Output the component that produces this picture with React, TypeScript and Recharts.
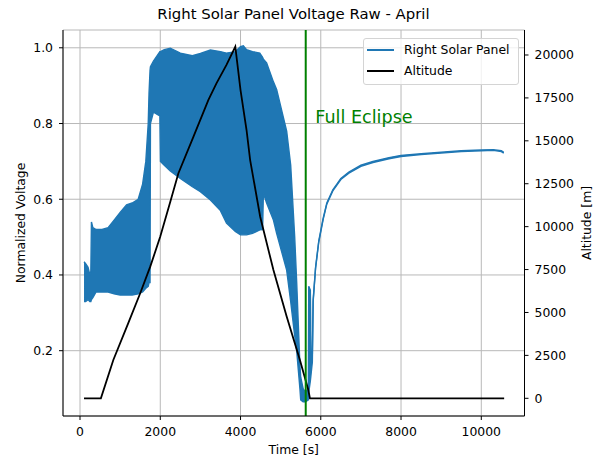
import React from 'react'
import {
  ComposedChart,
  Area,
  Line,
  XAxis,
  YAxis,
  CartesianGrid,
  ReferenceLine,
  Legend
} from 'recharts'

const FONT = '"DejaVu Sans", Verdana, sans-serif'

const panelTime = [
  100, 140, 200, 245, 270, 285, 320, 400, 550, 700, 850, 1000, 1160, 1300, 1450,
  1560, 1640, 1700, 1720, 1745, 1755, 1830, 1990, 2005, 2100, 2250, 2500, 2800,
  3000, 3250, 3500, 3650, 3870, 4000, 4070, 4150, 4300, 4480, 4550, 4570, 4650,
  4820, 4900, 5150, 5250, 5350, 5400, 5440, 5480, 5500, 5560, 5620, 5690, 5700,
  5740, 5760, 5790, 5810, 5870, 5950, 6060, 6150, 6300, 6500, 6700, 7000, 7300,
  7700, 8000, 8500, 9000, 9500, 10000, 10300, 10500, 10560
]
const panelLow = [
  0.33, 0.33, 0.335, 0.33, 0.33, 0.335, 0.34, 0.355, 0.355, 0.355, 0.35, 0.347, 0.347, 0.347, 0.35,
  0.355, 0.365, 0.37, 0.38, 0.38, 0.8, 0.83, 0.82, 0.7, 0.69, 0.675, 0.655, 0.633,
  0.62, 0.598, 0.57, 0.537, 0.515, 0.506, 0.506, 0.506, 0.51, 0.519, 0.52, 0.616, 0.59,
  0.545, 0.51, 0.413, 0.33, 0.24, 0.2, 0.15, 0.1, 0.07, 0.065, 0.065, 0.07, 0.09,
  0.12, 0.14, 0.17, 0.33, 0.417, 0.487, 0.547, 0.587, 0.622, 0.652, 0.669, 0.687, 0.697,
  0.707, 0.713, 0.718, 0.722, 0.726, 0.728, 0.729, 0.726, 0.722
]
const panelHigh = [
  0.435, 0.43, 0.42, 0.4, 0.41, 0.54, 0.525, 0.52, 0.52, 0.525, 0.545, 0.565, 0.585, 0.59, 0.6,
  0.64, 0.7, 0.8, 0.88, 0.94, 0.95, 0.965, 0.99, 0.99, 0.995, 0.999, 0.986, 0.979,
  0.985, 0.994, 0.99, 0.986, 0.99, 1.003, 1.005, 0.995, 0.99, 0.986, 0.975, 0.97, 0.96,
  0.91, 0.89, 0.78, 0.69, 0.5, 0.38, 0.27, 0.16, 0.13, 0.1, 0.09, 0.1, 0.37,
  0.36, 0.16, 0.19, 0.334, 0.42, 0.49, 0.55, 0.59, 0.625, 0.655, 0.672, 0.69, 0.7,
  0.71, 0.716, 0.72, 0.724, 0.728, 0.73, 0.731, 0.728, 0.724
]

// Balloon altitude [m]
const altTime = [
  100, 520, 830, 1200, 1500, 1750, 2000, 2250, 2450, 2820, 3200, 3400, 3650, 3870,
  4000, 4150, 4240, 4490, 4820, 5150, 5480, 5690, 5730, 10570
]
const altMeters = [
  0, 0, 2230, 4370, 6120, 7670, 9420, 11450, 13100, 15200, 17380, 18350, 19420, 20480,
  17960, 15630, 13880, 10580, 7470, 4760, 2230, 480, 0, 0
]

const timeTicks = [0, 2000, 4000, 6000, 8000, 10000]
const voltTicks = [0.2, 0.4, 0.6, 0.8, 1.0]
const altTicks = [0, 2500, 5000, 7500, 10000, 12500, 15000, 17500, 20000]
const eclipseTime = 5625

const panelData = panelTime.map((t, i) => ({ t, lo: panelLow[i], hi: panelHigh[i] }))
const altData = altTime.map((t, i) => ({ t, alt: altMeters[i] }))

const tickStyle = { fill: '#000', fontSize: 12.4, fontFamily: FONT }

const LegendBox = () => (
  <div
    style={{
      position: 'relative',
      width: 156,
      height: 47,
      boxSizing: 'border-box',
      border: '1px solid #d4d4d4',
      borderRadius: 3,
      background: 'rgba(255,255,255,0.8)',
      fontFamily: FONT,
      fontSize: 12.4,
      color: '#000'
    }}
  >
    <div style={{ position: 'absolute', left: 3, top: 10, width: 27, height: 2, background: '#1f77b4' }} />
    <div style={{ position: 'absolute', left: 40, top: 3, lineHeight: '16px', whiteSpace: 'nowrap' }}>Right Solar Panel</div>
    <div style={{ position: 'absolute', left: 3, top: 31, width: 27, height: 2, background: '#000' }} />
    <div style={{ position: 'absolute', left: 40, top: 24, lineHeight: '16px', whiteSpace: 'nowrap' }}>Altitude</div>
  </div>
)

export default function App() {
  return (
    <div style={{ position: 'absolute', left: 0, top: 0, width: 601, height: 463, background: '#fff' }}>
      <div
        style={{
          position: 'absolute',
          left: 63,
          top: 6,
          width: 461,
          textAlign: 'center',
          fontFamily: FONT,
          fontSize: 14.9,
          lineHeight: '17px',
          color: '#000'
        }}
      >
        Right Solar Panel Voltage Raw - April
      </div>
      <ComposedChart width={601} height={463} margin={{ top: 30, right: 0, bottom: 0, left: 0 }}>
        <CartesianGrid yAxisId="v" stroke="#b8b8b8" strokeWidth={1} />
        <XAxis
          type="number"
          dataKey="t"
          domain={[-424, 11077]}
          ticks={timeTicks}
          allowDataOverflow
          height={47}
          tickSize={4}
          tickMargin={7}
          tick={tickStyle}
          tickLine={{ stroke: '#000' }}
          axisLine={{ stroke: '#000' }}
          label={({ viewBox }: any) => (
            <text
              x={viewBox.x + viewBox.width / 2}
              y={viewBox.y + 38}
              textAnchor="middle"
              fontFamily={FONT}
              fontSize={12.4}
              fill="#000"
            >
              Time [s]
            </text>
          )}
        />
        <XAxis
          xAxisId="top"
          orientation="top"
          type="number"
          domain={[-424, 11077]}
          height={0}
          tick={false}
          tickLine={false}
          axisLine={{ stroke: '#000' }}
        />
        <YAxis
          yAxisId="v"
          type="number"
          domain={[0.0275, 1.047]}
          ticks={voltTicks}
          allowDataOverflow
          width={63}
          tickSize={4}
          tickMargin={6}
          tick={tickStyle}
          tickLine={{ stroke: '#000' }}
          axisLine={{ stroke: '#000' }}
          tickFormatter={(v: number) => v.toFixed(1)}
          label={({ viewBox }: any) => {
            const cx = viewBox.x + 20
            const cy = viewBox.y + viewBox.height / 2
            return (
              <text
                x={cx}
                y={cy}
                transform={`rotate(-90 ${cx} ${cy})`}
                textAnchor="middle"
                dominantBaseline="central"
                fontFamily={FONT}
                fontSize={12.4}
                fill="#000"
              >
                Normalized Voltage
              </text>
            )
          }}
        />
        <YAxis
          yAxisId="alt"
          orientation="right"
          type="number"
          domain={[-1031, 21456]}
          ticks={altTicks}
          allowDataOverflow
          width={76.5}
          tickSize={4}
          tickMargin={6}
          tick={tickStyle}
          tickLine={{ stroke: '#000' }}
          axisLine={{ stroke: '#000' }}
          label={({ viewBox }: any) => {
            const cx = viewBox.x + 62
            const cy = viewBox.y + viewBox.height / 2
            return (
              <text
                x={cx}
                y={cy}
                transform={`rotate(-90 ${cx} ${cy})`}
                textAnchor="middle"
                dominantBaseline="central"
                fontFamily={FONT}
                fontSize={12.4}
                fill="#000"
              >
                Altitude [m]
              </text>
            )
          }}
        />

        {/* raw panel voltage as an envelope band */}
        <Area
          yAxisId="v"
          data={panelData}
          dataKey={(d: any) => [d.lo, d.hi]}
          type="linear"
          stroke="#1f77b4"
          strokeWidth={1.4}
          fill="#1f77b4"
          fillOpacity={1}
          dot={false}
          activeDot={false}
          isAnimationActive={false}
          name="Right Solar Panel"
        />

        <Line
          yAxisId="alt"
          data={altData}
          dataKey="alt"
          type="linear"
          stroke="#000"
          strokeWidth={1.8}
          dot={false}
          activeDot={false}
          isAnimationActive={false}
          name="Altitude"
        />

        <ReferenceLine
          yAxisId="v"
          x={eclipseTime}
          stroke="#008000"
          strokeWidth={2}
          label={({ viewBox }: any) => (
            <text x={viewBox.x + 9.5} y={viewBox.y + 93} fontFamily={FONT} fontSize={17.6} fill="#008000">
              Full Eclipse
            </text>
          )}
        />

        <Legend
          layout="vertical"
          align="center"
          verticalAlign="middle"
          content={() => <LegendBox />}
          wrapperStyle={{ position: 'absolute', left: 363, top: 38, width: 156, height: 47 }}
        />
      </ComposedChart>
    </div>
  )
}
